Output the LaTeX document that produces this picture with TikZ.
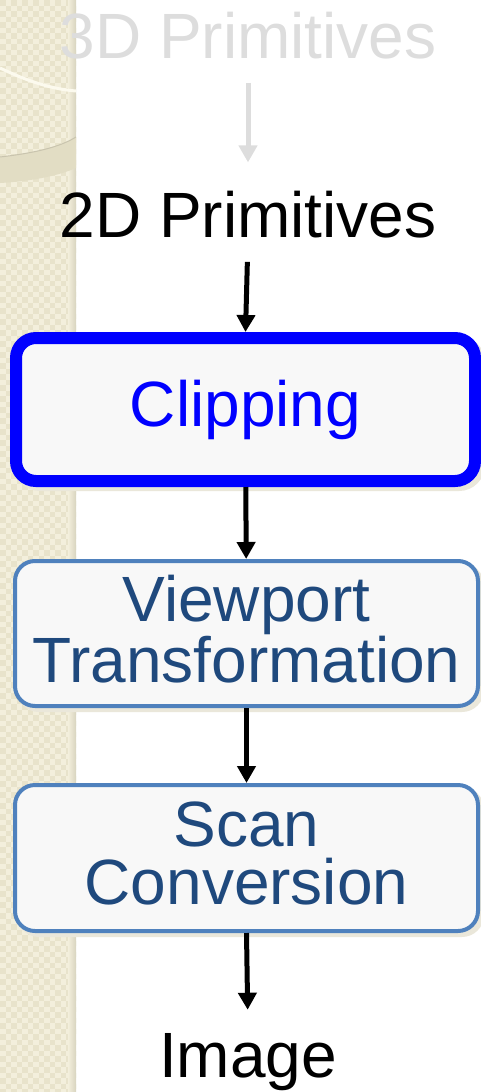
\documentclass[tikz,border=0pt]{standalone}
\usepackage{fontspec}
\setmainfont{Liberation Sans}
\usepackage{xcolor}
\usetikzlibrary{arrows.meta, positioning}

\definecolor{stripbase}{HTML}{F3EFDC}
\definecolor{stripdark}{HTML}{E8E3CB}
\definecolor{stripedge}{HTML}{D8D4BF}
\definecolor{bandcol}{HTML}{E2DDC4}
\definecolor{bandline}{HTML}{C9C4AE}
\definecolor{creamline}{HTML}{FCFAEE}
\definecolor{shadowcol}{HTML}{EAE7DA}
\definecolor{boxfill}{HTML}{F8F8F8}
\definecolor{clipblue}{HTML}{0000FF}
\definecolor{stepline}{HTML}{4F81BD}
\definecolor{steptext}{HTML}{1F497D}
\definecolor{ghost}{HTML}{DDDDDD}

\tikzset{
  lbl/.style={font=\fontsize{64}{58}\selectfont, inner sep=0pt, anchor=base},
  stagebox/.style={rounded corners=20pt, fill=boxfill, align=center, inner sep=0pt,
    font=\fontsize{64}{58}\selectfont,
    preaction={draw=shadowcol, fill=shadowcol, transform canvas={xshift=4pt, yshift=-4pt}}},
  arr/.style={->, line width=5pt},
}

\begin{document}
\begin{tikzpicture}[x=1pt, y=-1pt, >={Triangle[length=17pt, width=18pt]}]
    \useasboundingbox (0,0) rectangle (481,1092);

    % 1. Left strip with checker texture and curves
    \begin{scope}
        \clip (0,0) rectangle (76,1092);
        \fill[stripbase] (0,0) rectangle (76,1092);
        \foreach \x in {0,11,...,66}
            \foreach \y in {0,11,...,1089} {
                \fill[stripdark] (\x,\y) rectangle ++(5.5,5.5);
                \fill[stripdark] (\x+5.5,\y+5.5) rectangle ++(5.5,5.5);
            }
        \shade[left color=stripbase, right color=stripedge] (68,0) rectangle (76,1092);
        \fill[bandcol] (0,157) .. controls (35,153) and (60,147) .. (76,137)
            -- (76,168) .. controls (60,175) and (35,181) .. (0,183) -- cycle;
        \draw[bandline, line width=1pt] (0,157) .. controls (35,153) and (60,147) .. (76,137);
        \draw[creamline, line width=3pt] (0,68) .. controls (25,80) and (50,89) .. (76,91);
    \end{scope}

    % 2. Text nodes and stage boxes
    \node[lbl, text=ghost] (prim3) at (248,58) {3D Primitives};
    \node[lbl] (prim2) at (248,237) {2D Primitives};
    \node[stagebox, draw=clipblue, text=clipblue, line width=12pt,
        minimum width=459pt, minimum height=143pt] (clip) at (245.5,409.5) {Clipping};
    \node[stagebox, draw=stepline, text=steptext, line width=4pt, text depth=10pt,
        minimum width=463pt, minimum height=145pt] (view) at (246.5,633.5) {Viewport\\Transformation};
    \node[stagebox, draw=stepline, text=steptext, line width=4pt, text depth=10pt,
        minimum width=463pt, minimum height=146pt] (scan) at (246.5,858) {Scan\\Conversion};
    \node[lbl] (img) at (248,1077) {Image};

    % 3. Arrows between the stages
    \draw[arr, ghost, shorten <=24pt, shorten >=28pt] (prim3.south) -- (prim2.north);
    \draw[arr, shorten <=24pt] (prim2.south) -- (clip.north);
    \draw[arr] (clip) -- (view);
    \draw[arr] (view) -- (scan);
    \draw[arr, shorten >=23pt] (scan.south) -- (img.north);

\end{tikzpicture}
\end{document}
